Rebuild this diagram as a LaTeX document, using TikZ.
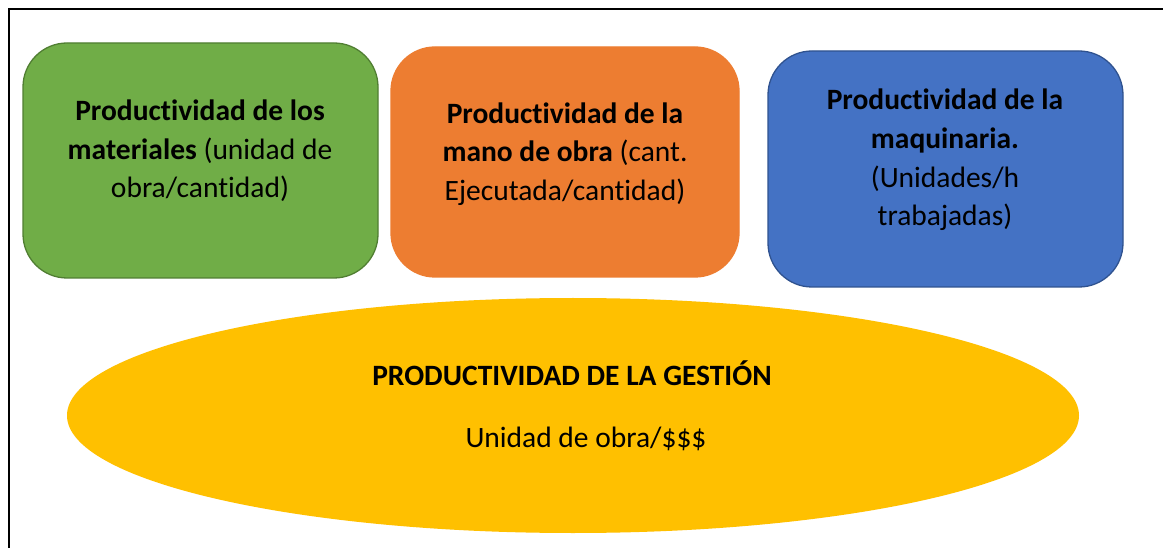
\documentclass[tikz,border=0pt]{standalone}
\usepackage{fontspec}
\setmainfont{Carlito}[RawFeature=-liga]
\usetikzlibrary{shapes.geometric}
\definecolor{cgreen}{HTML}{70AD47}
\definecolor{cgreenb}{HTML}{507E32}
\definecolor{corange}{HTML}{ED7D31}
\definecolor{cblue}{HTML}{4472C4}
\definecolor{cblueb}{HTML}{2F528F}
\definecolor{cgold}{HTML}{FFC000}
\tikzset{
  card/.style={rounded corners=44pt, line width=1.3pt, inner sep=0pt},
  lbl/.style={align=center, font=\fontsize{29.5}{38.6}\selectfont, text=black, inner sep=0pt},
}
\begin{document}
\begin{tikzpicture}[x=1pt,y=-1pt]
\useasboundingbox (0,0) rectangle (1163,548);
\fill[white] (0,0) rectangle (1163,548);
\draw[line width=2pt] (9,560) -- (9,9) -- (1175,9);
% boxes
\node[card, draw=cgreenb, fill=cgreen, minimum width=355pt, minimum height=235pt] (g) at (200.5,160.5) {};
\node[card, draw=corange, fill=corange, minimum width=348pt, minimum height=230pt] (o) at (565,162) {};
\node[card, draw=cblueb, fill=cblue, minimum width=355pt, minimum height=236pt] (b) at (945.5,169) {};
\node[ellipse, fill=cgold, minimum width=1012pt, minimum height=235pt, inner sep=0pt] (e) at (573,415.5) {};
% texts
\node[lbl] (gt) at (200,151) {\textbf{Productividad de los}\\\textbf{materiales} (unidad de\\obra/cantidad)};
\node[lbl] (ot) at (565,154) {\textbf{Productividad de la}\\\textbf{mano de obra} (cant.\\Ejecutada/cantidad)};
\node[lbl] (bt) at (945,160) {\textbf{Productividad de la}\\\textbf{maquinaria.}\\(Unidades/h\\trabajadas)};
\node[lbl, anchor=base] (et) at (572,385) {\textbf{PRODUCTIVIDAD DE LA GESTIÓN}};
\node[lbl, anchor=base] (eu) at (586,447) {Unidad de obra/\$\$\$};
\end{tikzpicture}
\end{document}
